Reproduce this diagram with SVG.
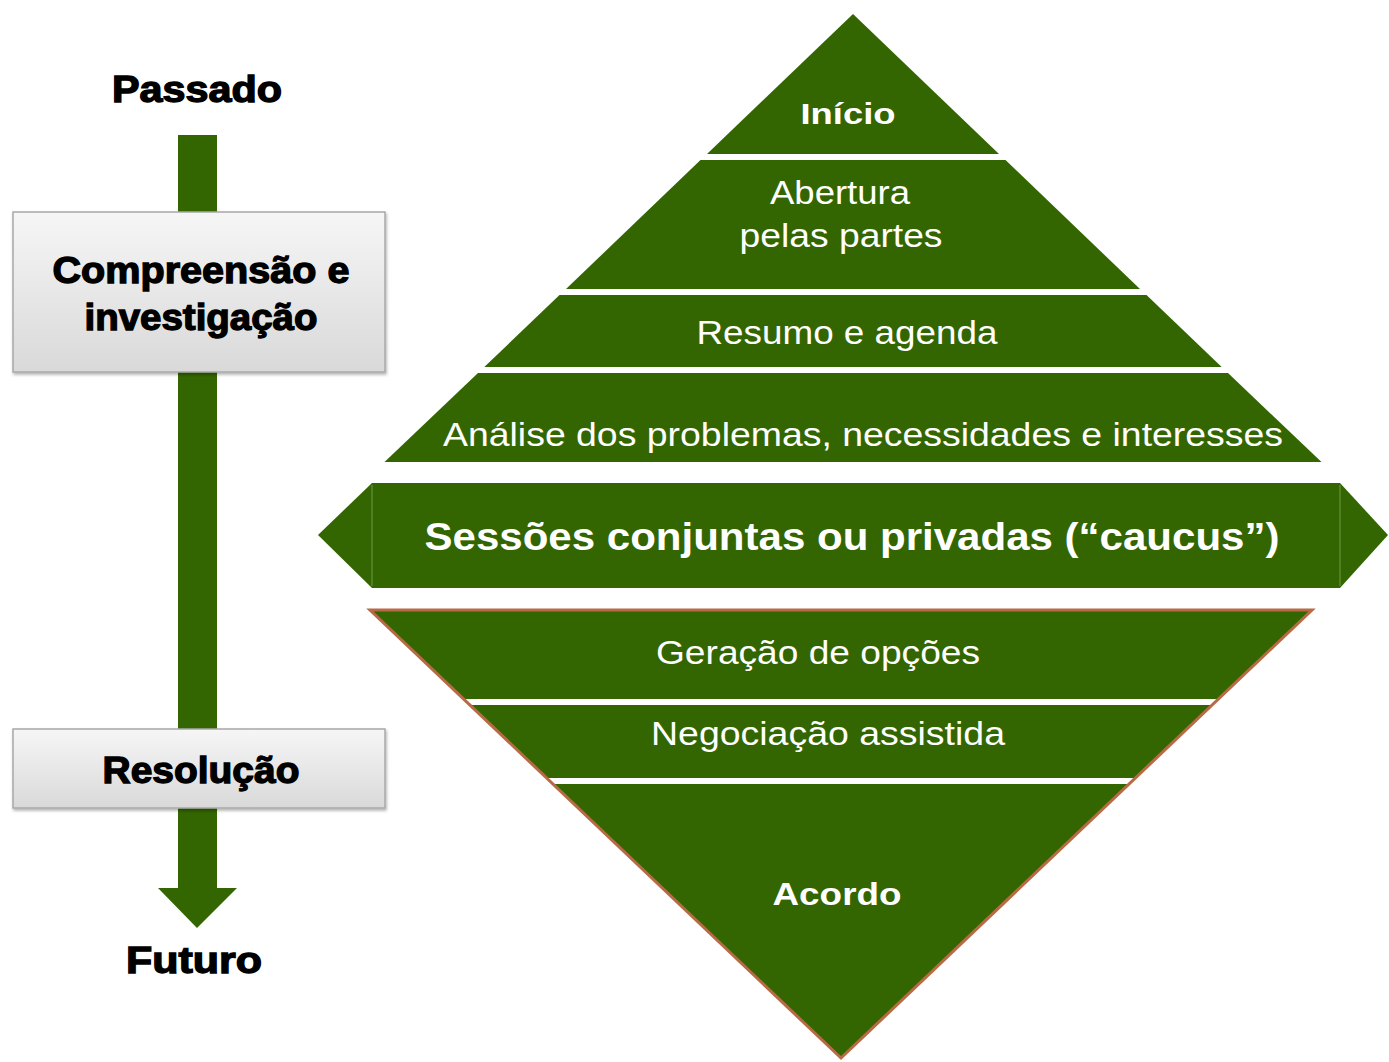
<svg xmlns="http://www.w3.org/2000/svg" width="1389" height="1062" viewBox="0 0 1389 1062">
<style>
.g{fill:#336600}
.w{fill:#ffffff;font-family:"Liberation Sans Narrow","Liberation Sans",Arial,sans-serif;font-size:33px;text-anchor:middle}
.wb{fill:#ffffff;font-family:"Liberation Sans",Arial,sans-serif;font-weight:bold;text-anchor:middle}
.k{fill:#000;stroke:#000;stroke-width:1.3;font-family:"Liberation Sans",Arial,sans-serif;font-weight:bold;text-anchor:middle}
.box{fill:url(#gb);stroke:#a8a8a8;stroke-width:1.5}
</style>
<defs>
<linearGradient id="gb" x1="0" y1="0" x2="0" y2="1">
<stop offset="0" stop-color="#f6f6f6"/>
<stop offset="1" stop-color="#d9d9d9"/>
</linearGradient>
<filter id="sh" x="-5%" y="-5%" width="110%" height="115%">
<feDropShadow dx="1" dy="2" stdDeviation="1.5" flood-color="#000" flood-opacity="0.3"/>
</filter>
</defs>
<rect width="1389" height="1062" fill="#fff"/>

<g id="connectors">
<rect class="g" x="178" y="135" width="39" height="755"/>
<polygon class="g" points="158,888 237,888 197,928"/>
</g>

<g id="passado"><text class="k" x="197" y="102" font-size="36" textLength="170" lengthAdjust="spacingAndGlyphs">Passado</text></g>
<g id="futuro"><text class="k" x="194" y="973" font-size="36" textLength="136" lengthAdjust="spacingAndGlyphs">Futuro</text></g>

<g id="compreensao">
<rect class="box" x="13" y="212" width="372" height="160" filter="url(#sh)"/>
<text class="k" x="201" y="283" font-size="36" textLength="297" lengthAdjust="spacingAndGlyphs">Compreensão e</text>
<text class="k" x="201" y="330" font-size="36" textLength="233" lengthAdjust="spacingAndGlyphs">investigação</text>
</g>
<g id="resolucao">
<rect class="box" x="13" y="729" width="372" height="79" filter="url(#sh)"/>
<text class="k" x="201" y="783" font-size="36" textLength="197" lengthAdjust="spacingAndGlyphs">Resolução</text>
</g>

<g id="inicio">
<polygon class="g" points="853,14 999,154 707,154"/>
<text class="wb" x="848" y="124" font-size="30" textLength="95" lengthAdjust="spacingAndGlyphs">Início</text>
</g>
<g id="abertura">
<polygon class="g" points="700.5,160 1005.5,160 1140,289 566,289"/>
<text class="w" x="840" y="204" textLength="140" lengthAdjust="spacingAndGlyphs">Abertura</text>
<text class="w" x="841" y="247" textLength="203" lengthAdjust="spacingAndGlyphs">pelas partes</text>
</g>
<g id="resumo">
<polygon class="g" points="559.5,295 1146.5,295 1221.7,367 484.3,367"/>
<text class="w" x="847" y="344" textLength="301" lengthAdjust="spacingAndGlyphs">Resumo e agenda</text>
</g>
<g id="analise">
<polygon class="g" points="478,373 1228,373 1321.5,462 384.5,462"/>
<text class="w" x="863" y="446" textLength="840" lengthAdjust="spacingAndGlyphs">Análise dos problemas, necessidades e interesses</text>
</g>

<g id="sessoes">
<polygon class="g" points="318,535 372,483 1340,483 1388,535 1340,588 372,588"/>
<line x1="372" y1="485" x2="372" y2="586" stroke="#5a8a30" stroke-width="1.5"/>
<line x1="1340" y1="485" x2="1340" y2="586" stroke="#5a8a30" stroke-width="1.5"/>
<text class="wb" x="852" y="550" font-size="38" textLength="855" lengthAdjust="spacingAndGlyphs">Sessões conjuntas ou privadas (“caucus”)</text>
</g>

<g id="geracao">
<polygon class="g" points="370,610 1312,610 1218.4,699 463.6,699"/>
<text class="w" x="818" y="664" textLength="324" lengthAdjust="spacingAndGlyphs">Geração de opções</text>
</g>
<g id="negociacao">
<polygon class="g" points="470,705 1212,705 1135.4,778 546.6,778"/>
<text class="w" x="828" y="745" textLength="354" lengthAdjust="spacingAndGlyphs">Negociação assistida</text>
</g>
<g id="acordo">
<polygon class="g" points="553,784 1129,784 841,1058"/>
<text class="wb" x="837" y="905" font-size="32" textLength="129" lengthAdjust="spacingAndGlyphs">Acordo</text>
</g>
<polygon points="370,610 1312,610 841,1058" fill="none" stroke="#b86a45" stroke-width="3" stroke-linejoin="miter"/>
</svg>
